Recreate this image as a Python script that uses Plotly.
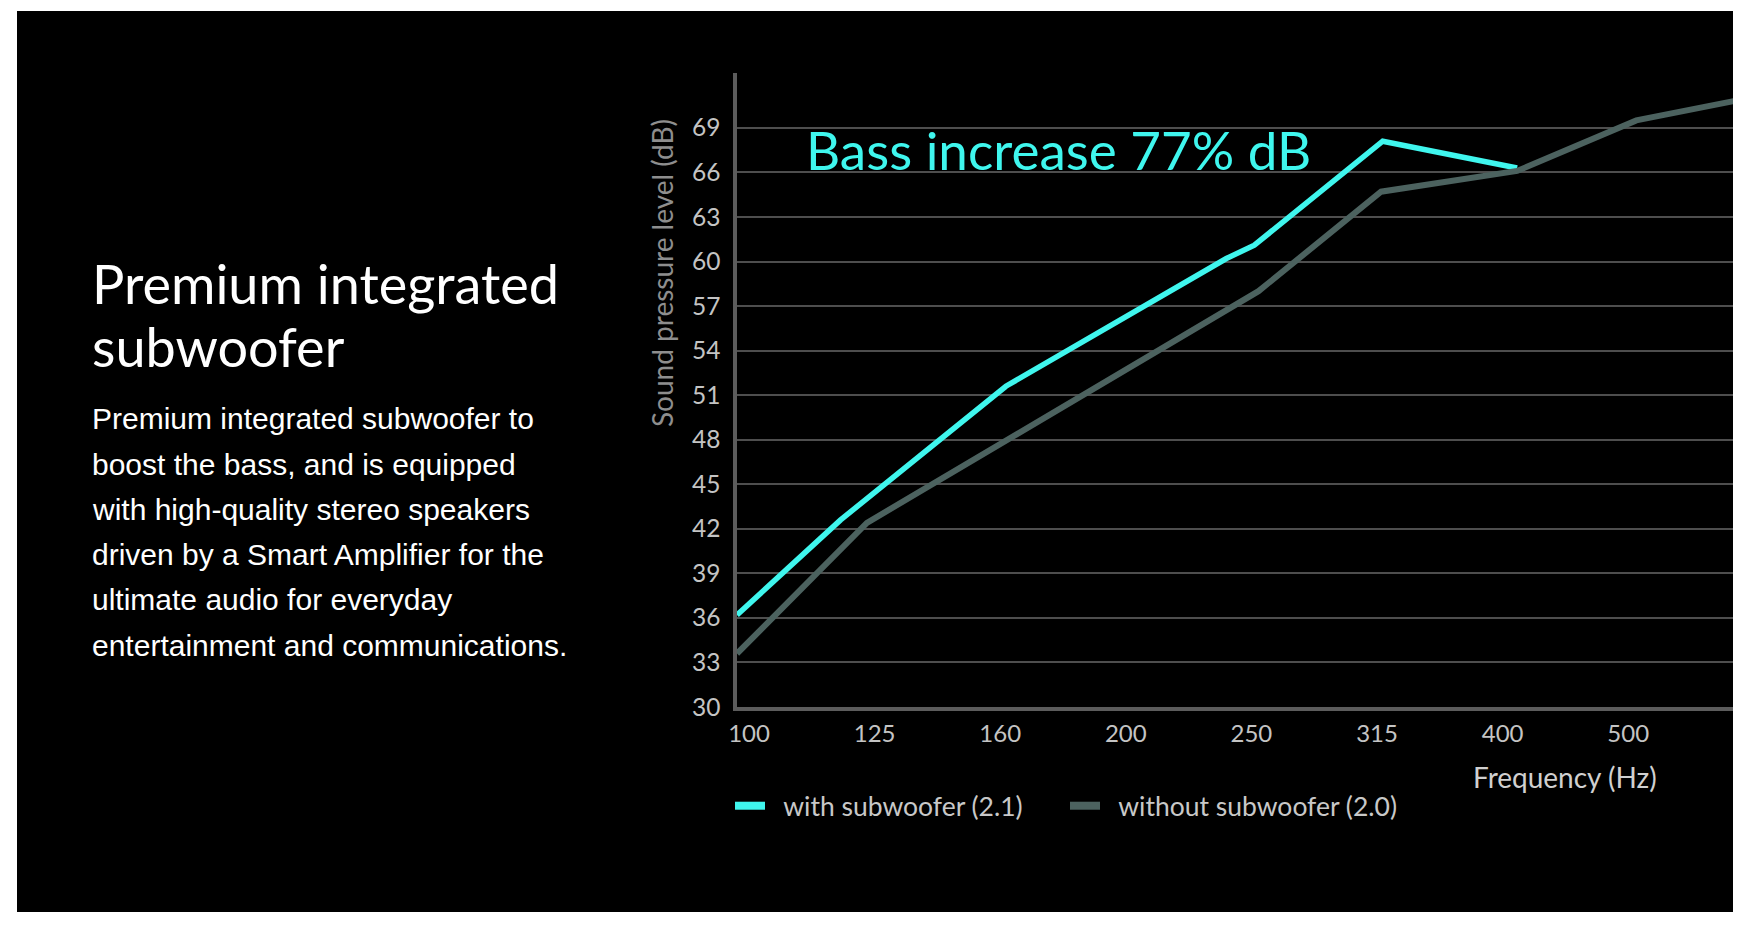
import math
import plotly.graph_objects as go

# ---------------- data ----------------
freq_ticks = [100, 125, 160, 200, 250, 315, 400, 500]
tick_labels = ["100", "125", "160", "200", "250", "315", "400", "500"]

with_sub_hz = [100, 121, 164, 246, 259, 328, 420]
with_sub_db = [36.2, 42.6, 51.6, 60.2, 61.1, 68.1, 66.3]

without_sub_hz = [100, 127, 261, 327, 420, 523, 630]
without_sub_db = [33.6, 42.4, 58.0, 64.7, 66.1, 69.5, 70.85]

y_ticks = list(range(30, 70, 3))

series_names = ["with subwoofer (2.1)", "without subwoofer (2.0)"]

title_lines = ["Premium integrated", "subwoofer"]
body_lines = [
    "Premium integrated subwoofer to",
    "boost the bass, and is equipped",
    "with high-quality stereo speakers",
    "driven by a Smart Amplifier for the",
    "ultimate audio for everyday",
    "entertainment and communications.",
]

# ---------------- layout constants (pixels in figure space) ----------------
W, H = 1738, 914
PL, PR, PT, PB = 729, 1725, 65, 699          # plot area edges
OCT_PX = 376.8                                # pixels per octave
DB_PX = 14.85                                 # pixels per dB

CYAN = "#3ff6ee"
GREY_LINE = "#4c625f"
FONT = "Lato"
BODY_FONT = "Liberation Sans, Arial, sans-serif"
LEGEND_GAP = "\u2002"   # small gap between legend swatch and label


def px(xf):
    return (xf - PL) / (PR - PL)


def py(yf):
    return (PB - yf) / (PB - PT)


x_max = 2 + ((PR - PL) / OCT_PX) * math.log10(2)
y_max = 30 + (PB - PT) / DB_PX

# nominal third-octave band centres -> exact positions on the log axis
tick_pos = [100 * 2 ** (i / 3) for i in range(len(freq_ticks))]

fig = go.Figure()

fig.add_trace(go.Scatter(
    x=with_sub_hz, y=with_sub_db, mode="lines",
    line=dict(color=CYAN, width=5.5), showlegend=False, hoverinfo="skip"))
fig.add_trace(go.Scatter(
    x=without_sub_hz, y=without_sub_db, mode="lines",
    line=dict(color=GREY_LINE, width=6), showlegend=False, hoverinfo="skip"))

# legend entries
fig.add_trace(go.Scatter(x=[None], y=[None], mode="lines",
                         line=dict(color=CYAN, width=8), name=LEGEND_GAP + series_names[0]))
fig.add_trace(go.Scatter(x=[None], y=[None], mode="lines",
                         line=dict(color=GREY_LINE, width=8), name=LEGEND_GAP + series_names[1]))

annotations = []
# chart annotations
annotations.append(dict(
    text="Bass increase 77% dB", x=px(796), y=py(141), xref="paper", yref="paper",
    xanchor="left", yanchor="middle", showarrow=False,
    font=dict(family=FONT, size=53, color=CYAN)))
annotations.append(dict(
    text="Sound pressure level (dB)", x=px(654), y=py(265), xref="paper", yref="paper",
    xanchor="center", yanchor="middle", showarrow=False, textangle=-90,
    font=dict(family=FONT, size=28, color="#8e8e8e")))
annotations.append(dict(
    text="Frequency (Hz)", x=px(1557), y=py(769), xref="paper", yref="paper",
    xanchor="center", yanchor="middle", showarrow=False,
    font=dict(family=FONT, size=28, color="#d0d0d0")))

# left text block
title_mid = [275, 338]
for line, ym in zip(title_lines, title_mid):
    annotations.append(dict(
        text=line, x=px(82), y=py(ym), xref="paper", yref="paper",
        xanchor="left", yanchor="middle", showarrow=False,
        font=dict(family=FONT, size=54, color="#ffffff")))

body_mid0, body_step = 411, 45.2
for i, line in enumerate(body_lines):
    annotations.append(dict(
        text=line, x=px(82), y=py(body_mid0 + i * body_step), xref="paper", yref="paper",
        xanchor="left", yanchor="middle", showarrow=False,
        font=dict(family=BODY_FONT, size=30, color="#ffffff")))

shapes = [dict(
    type="rect", xref="paper", yref="paper", layer="below",
    x0=px(9), x1=px(1725), y0=py(904), y1=py(3),
    fillcolor="#000000", line=dict(width=0))]

fig.update_layout(
    width=W, height=H,
    margin=dict(l=PL, r=W - PR, t=PT, b=H - PB, pad=0),
    paper_bgcolor="#ffffff", plot_bgcolor="#000000",
    shapes=shapes, annotations=annotations,
    showlegend=True,
    legend=dict(orientation="h", x=px(722), xanchor="left", y=py(798), yanchor="middle",
                font=dict(family=FONT, size=26.5, color="#c8c8c8"),
                bgcolor="rgba(0,0,0,0)", itemwidth=30, entrywidth=290),
    xaxis=dict(type="log", range=[2, x_max], tickvals=tick_pos, ticktext=tick_labels,
               showgrid=False, zeroline=False, showline=True, linecolor="#5c5c5c",
               linewidth=3.5, ticks="", ticklabelshift=12, ticklabelstandoff=2,
               tickfont=dict(family=FONT, size=24, color="#c4c4c4"), fixedrange=True),
    yaxis=dict(range=[30, y_max], tickvals=y_ticks, showgrid=True, gridcolor="#4e4e4e",
               gridwidth=1.5, zeroline=False, showline=True, linecolor="#5c5c5c",
               linewidth=3.5, ticks="", ticklabelstandoff=8,
               tickfont=dict(family=FONT, size=24.5, color="#c4c4c4"), fixedrange=True),
    hovermode=False,
)

fig.write_html("out.html", config={"displayModeBar": False})
